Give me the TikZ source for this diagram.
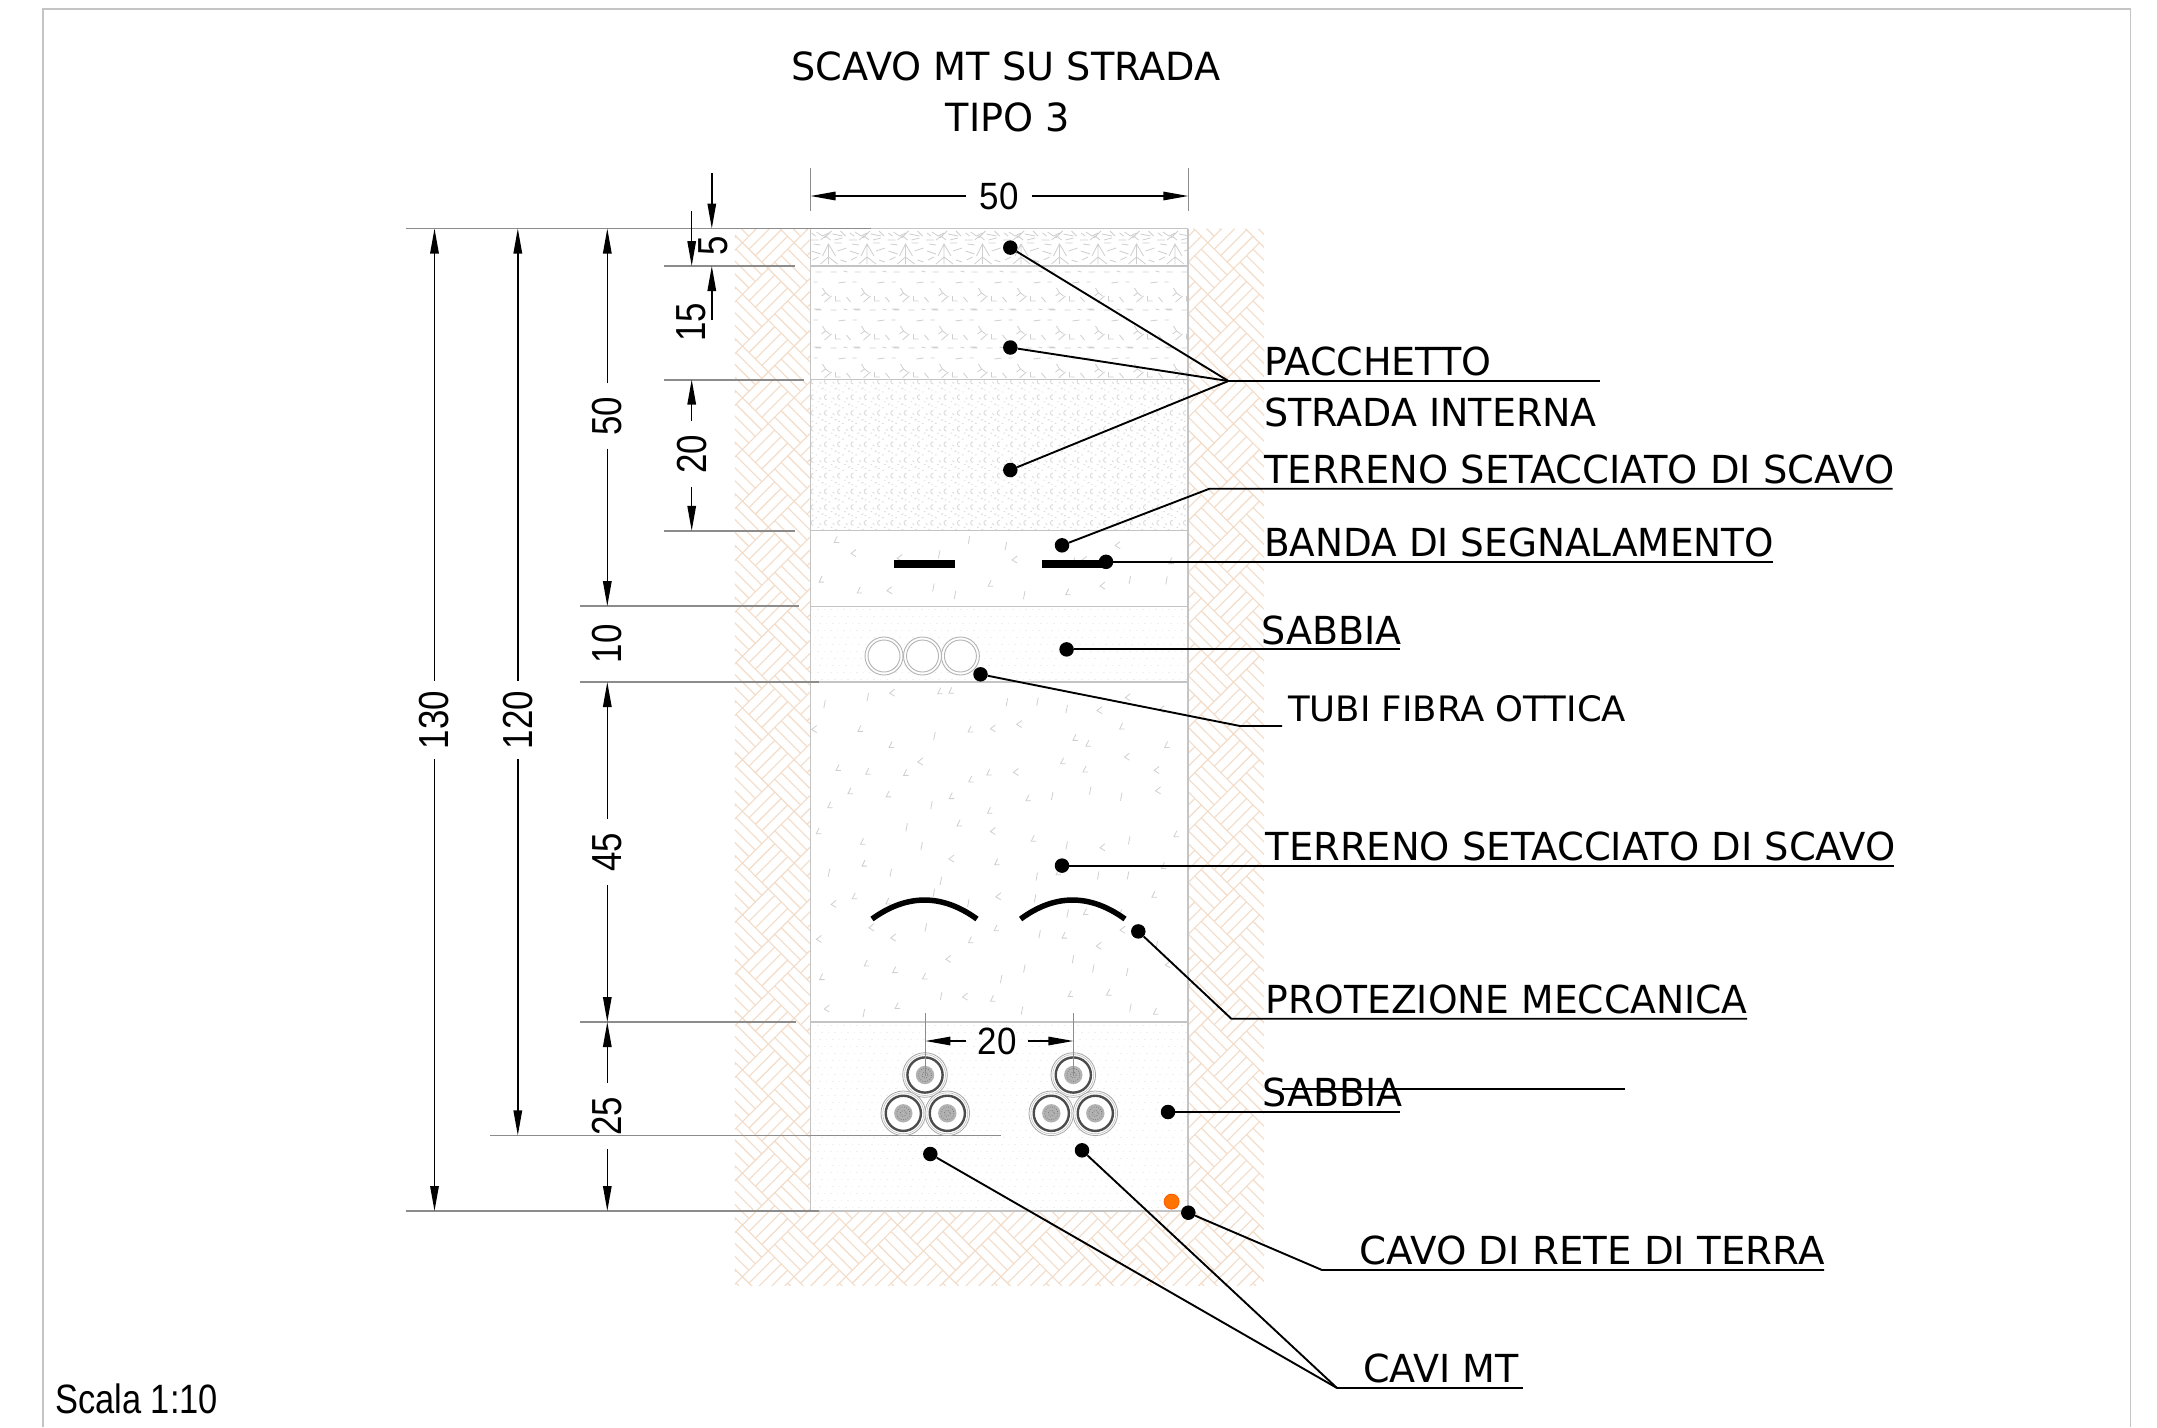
\documentclass[tikz,border=0pt]{standalone}
\usepackage{fontspec}
\usetikzlibrary{arrows.meta}
\setmainfont{DejaVu Sans}
\newfontfamily\lblfont[FakeStretch=0.985]{DejaVu Sans}
\newfontfamily\lblter[FakeStretch=0.996]{DejaVu Sans}
\newfontfamily\lblban[FakeStretch=0.969]{DejaVu Sans}
\newfontfamily\lblcav[FakeStretch=1.003]{DejaVu Sans}
\newfontfamily\lblpro[FakeStretch=0.976]{DejaVu Sans}
\newfontfamily\lbltub[FakeStretch=1.014]{DejaVu Sans}
\newfontfamily\dimfont[FakeStretch=0.92]{Liberation Sans}
\newfontfamily\dimrot[FakeStretch=0.83]{Liberation Sans}
\newfontfamily\scalafont[FakeStretch=0.84]{Liberation Sans}
\definecolor{hatchc}{HTML}{F3DCC8}
\definecolor{markc}{HTML}{CFCFCF}
\definecolor{sandc}{HTML}{EFEFEF}
\definecolor{sidec}{HTML}{C4C4C4}
\definecolor{extc}{HTML}{8C8C8C}
\tikzset{
  x=1pt,y=-1pt,
  hatchline/.style={draw=hatchc,line width=1.1pt},
  mk/.style={draw=markc,line width=.8pt},
  sand/.style={draw=sandc,line width=1pt},
  layerline/.style={draw=sidec,line width=1.2pt},
  sideline/.style={draw=sidec,line width=1.8pt},
  extline/.style={draw=extc,line width=1.8pt},
  extthin/.style={draw=extc,line width=1.1pt},
  dimline/.style={draw=black,line width=1.4pt},
  tipA/.tip={Triangle[length=25pt,width=8.5pt]},
  dimnum/.style={inner xsep=11pt,inner ysep=0pt,font=\dimfont\fontsize{38}{38}\selectfont},
  dimv/.style={rotate=90,inner xsep=10pt,inner ysep=0pt,font=\dimrot\fontsize{42}{42}\selectfont},
  dimtxt/.style={rotate=90,inner sep=0pt,font=\dimrot\fontsize{42}{42}\selectfont},
  lbl/.style={anchor=base west,inner sep=0pt,font=\lblfont\fontsize{38.6}{38.6}\selectfont},
  lbltitle/.style={inner sep=0pt,font=\lblfont\fontsize{38.8}{38.8}\selectfont},
  dot/.style={circle,fill=black,inner sep=0pt,minimum size=14.5pt},
  leader/.style={draw=black,line width=1.9pt},
  band/.style={fill=black},
  arcp/.style={draw=black,line width=5.5pt},
  tube/.style={draw=gray!60,line width=.9pt,fill=white},
}
\begin{document}
\begin{tikzpicture}
\useasboundingbox (0,0) rectangle (2157,1427);
\fill[white] (0,0) rectangle (2157,1427);
% frame
\draw[draw=sidec,line width=1.6pt] (42.8,1427) -- (42.8,9) -- (2130.5,9) -- (2130.5,1427);

% soil hatching (woven blocks of parallel lines)
\begin{scope}
\clip (734.8,228.5) -- (810.5,228.5) -- (810.5,1211) -- (1188.3,1211) -- (1188.3,228.5) -- (1264,228.5) -- (1264,1285.8) -- (734.8,1285.8) -- cycle;
\def\dd{25.85}
\foreach \m in {-4,...,17}{
  \foreach \n in {-39,...,3}{
    \pgfmathtruncatemacro{\prty}{mod(abs(\m+\n),2)}
    \ifnum\prty=0
      \pgfmathsetmacro{\cx}{820+\m*\dd}
      \pgfmathsetmacro{\cy}{1225+\n*\dd}
      \pgfmathtruncatemacro{\keep}{(\cx>838 && \cx<1160 && \cy<1180) ? 0 : 1}
      \ifnum\keep=1
        \pgfmathtruncatemacro{\ori}{mod(abs(\m),2)}
        \ifnum\ori=0
          \draw[hatchline] \foreach \t in {0,.25,.5,.75,1}{
            (\cx-\dd+\t*\dd,\cy+\t*\dd) -- ++(\dd,-\dd)};
        \else
          \draw[hatchline] \foreach \t in {0,.25,.5,.75,1}{
            (\cx-\dd+\t*\dd,\cy-\t*\dd) -- ++(\dd,\dd)};
        \fi
      \fi
    \fi
  }
}
\end{scope}

% trench fill textures
\begin{scope}
\clip (810.5,228.5) rectangle (1188.3,266);
\draw[mk] \foreach \i in {0,...,9}{
  (810.5+\i*38.5+12,256) -- ++(6,-12) -- ++(7,12)
  (810.5+\i*38.5+18,244) -- ++(0,20)
  (810.5+\i*38.5+10,264) -- ++(8,-7) -- ++(9,7)
  (810.5+\i*38.5+1,251) -- ++(9,3)
  (810.5+\i*38.5+27,251) -- ++(9,-3)
  (810.5+\i*38.5+2,260) -- ++(6,-3)
  (810.5+\i*38.5+30,260) -- ++(6,2)
  (810.5+\i*38.5+24,243) -- ++(7,0)
  (810.5+\i*38.5+3,244) -- ++(7,1)
  (810.5+\i*38.5+6,232) -- ++(6,4) -- ++(6,-3)
  (810.5+\i*38.5+10,240) -- ++(5,-4) -- ++(5,4)
  (810.5+\i*38.5+14,238) -- ++(7,-7)
  (810.5+\i*38.5+22,234) -- ++(10,2)
  (810.5+\i*38.5+30,231) -- ++(5,5)
  (810.5+\i*38.5+24,240) -- ++(8,-2)
  (810.5+\i*38.5+0,240) -- ++(8,0)
  (810.5+\i*38.5+1,233) -- ++(4,3)
};
\end{scope}
\begin{scope}
\clip (810.5,266) rectangle (1188.3,379.6);
\draw[mk] \foreach \i in {0,...,9}{\foreach \j in {0,1,2}{
  (810.5+\i*39+5,266+\j*38+6) -- ++(6,0)
  (810.5+\i*39+20,266+\j*38+6) -- ++(6,0)
  (810.5+\i*39+33,266+\j*38+5) -- ++(4,1)
  (810.5+\i*39+3,266+\j*38+16) -- ++(4,0)
  (810.5+\i*39+28,266+\j*38+17) -- ++(7,-1)
  (810.5+\i*39+12,266+\j*38+22) -- ++(3,5) -- ++(4,3)
  (810.5+\i*39+15,266+\j*38+27) -- ++(-4,3)
  (810.5+\i*39+14,266+\j*38+36) -- ++(7,-6)
  (810.5+\i*39+25,266+\j*38+30) -- ++(0,5) -- ++(5,0)
  (810.5+\i*39+36,266+\j*38+31) -- ++(4,5)
  (810.5+\i*39+3,266+\j*38+43) -- ++(7,0)
}};
\end{scope}
\begin{scope}
\clip (810.5,379.6) rectangle (1188.3,530.8);
\draw[draw=black!14,line width=.9pt] \foreach \i in {0,...,28}{\foreach \j in {0,...,9}{
  (810.5+\i*13.3+3,384+\j*15.7) arc[start angle=90,end angle=270,radius=2.5]
  (810.5+\i*13.3+7,386+\j*15.7) -- ++(1.5,0)
  (810.5+\i*13.3+9,382+\j*15.7) -- ++(1.5,1.5)
  (810.5+\i*13.3+11,389+\j*15.7) -- ++(2,-1)
  (810.5+\i*13.3+1,390+\j*15.7) -- ++(1.5,0)
  (810.5+\i*13.3+5,392+\j*15.7) -- ++(1.5,0)
}};
\end{scope}
\foreach \ya/\yb in {606.2/682,1022/1211}{
\begin{scope}
\clip (810.5,\ya) rectangle (1188.3,\yb);
\foreach \j in {0,...,27}{
  \pgfmathsetmacro{\ph}{mod(\j,3)*2.2}
  \draw[sand,dash pattern=on 1.5pt off 5pt,dash phase=\ph pt] (810.5,\ya+3+\j*7) -- (1188.3,\ya+3+\j*7);
}
\end{scope}
}
% scattered marks on a jittered grid
\pgfmathsetseed{4711}
\foreach \ya/\rows in {534/2,686/10}{
  \pgfmathtruncatemacro{\lastrow}{\rows-1}
  \foreach \rr in {0,...,\lastrow}{
    \foreach \cc in {0,...,10}{
      \pgfmathsetmacro{\rx}{816+\cc*33.5+rnd*26}
      \pgfmathsetmacro{\ry}{\ya+\rr*33.5+rnd*24}
      \pgfmathtruncatemacro{\kind}{int(rnd*3)}
      \ifcase\kind
        \draw[mk] (\rx,\ry) -- ++(-5,4) -- ++(5,3);
      \or
        \draw[mk] (\rx,\ry) -- ++(-1.5,8);
      \else
        \draw[mk] (\rx,\ry) -- ++(-3,6) -- ++(5,0);
      \fi
    }
  }
}

% layer lines and trench sides
\draw[layerline] (810.5,266) -- (1188.3,266);
\draw[layerline] (810.5,379.6) -- (1188.3,379.6);
\draw[layerline] (810.5,530.8) -- (1188.3,530.8);
\draw[layerline] (810.5,606.2) -- (1188.3,606.2);
\draw[layerline] (810.5,682) -- (1188.3,682);
\draw[layerline] (810.5,1022) -- (1188.3,1022);
\draw[layerline] (810.5,1211) -- (1188.3,1211);
\draw[layerline] (810.5,228.5) -- (1188.3,228.5);
\draw[sideline] (810.5,228.5) -- (810.5,1211);
\draw[sideline] (1188.3,228.5) -- (1188.3,1211);

% dimension extension lines
\draw[extline] (406.4,228.5) -- (871.4,228.5);
\draw[extline] (664,266) -- (794.5,266);
\draw[extline] (664,379.6) -- (803.6,379.6);
\draw[extline] (664,530.8) -- (794.5,530.8);
\draw[extline] (579.8,606.2) -- (799,606.2);
\draw[extline] (579.8,682) -- (819,682);
\draw[extline] (579.8,1022) -- (795.6,1022);
\draw[extline] (490.2,1135.4) -- (1001,1135.4);
\draw[extline] (406.4,1211) -- (819,1211);
\coordinate (extla) at (810.5,168);
\coordinate (extlb) at (810.5,210.5);
\coordinate (extra) at (1188.3,168);
\coordinate (extrb) at (1188.3,210.5);
\draw[extthin] (extla) -- (extlb);
\draw[extthin] (extra) -- (extrb);

% cables
\foreach \nm/\cx/\cy in {ca/925/1075,cb/903.3/1113.3,cc/947.3/1113.3,cd/1073.3/1075,ce/1051.3/1113.3,cf/1095.3/1113.3}{
  \draw[draw=black!35,line width=.8pt,fill=white] (\cx,\cy) circle[radius=22.3];
  \draw[draw=black!25,line width=.6pt] (\cx,\cy) circle[radius=20.5];
  \draw[draw=black!70,line width=2.4pt] (\cx,\cy) circle[radius=17.6];
  \fill[black!30] (\cx,\cy) circle[radius=9.2];
  \draw[black!55,line width=.7pt,dash pattern=on .8pt off 1.6pt] (\cx,\cy) circle[radius=6.5];
  \draw[black!55,line width=.7pt,dash pattern=on .8pt off 1.6pt] (\cx,\cy) circle[radius=3];
}
\coordinate (d20la) at (925.4,1013);
\coordinate (d20lb) at (925.4,1076);
\coordinate (d20ra) at (1073.4,1013);
\coordinate (d20rb) at (1073.4,1076);
\draw[extthin] (d20la) -- (d20lb);
\draw[extthin] (d20ra) -- (d20rb);

% fibre tubes
\foreach \cx in {884,922.5,960.4}{
  \draw[tube] (\cx,656) circle[radius=19];
  \draw[tube] (\cx,656) circle[radius=16];
}

% warning bands and protection
\fill[band] (894.3,559.5) rectangle (955.2,568);
\fill[band] (1042,559.5) rectangle (1106,568);
\draw[arcp] (872,919) .. controls (907,893.7) and (942,893.7) .. (977,919);
\draw[arcp] (1020.6,919) .. controls (1055,893.7) and (1090,893.7) .. (1125,919);
% earth cable
\node[circle,fill=orange!90!red,draw=orange!70!red,line width=.8pt,inner sep=0pt,minimum size=15pt] (earth) at (1171.6,1201.6) {};

% dimensions
\node[dimnum,inner xsep=13pt] (n50top) at (999,196) {50};
\coordinate (a50l) at (810.5,196);
\coordinate (a50r) at (1188.3,196);
\draw[dimline,-tipA] (n50top) -- (a50l);
\draw[dimline,-tipA] (n50top) -- (a50r);

\coordinate (gtop130) at (434.5,228.5);
\coordinate (gbot130) at (434.5,1211);
\node[dimv] (n130) at (434.5,720) {130};
\draw[dimline,-tipA] (n130) -- (gtop130);
\draw[dimline,-tipA] (n130) -- (gbot130);

\coordinate (gtop120) at (517.8,228.5);
\coordinate (gbot120) at (517.8,1135.4);
\node[dimv] (n120) at (517.8,720) {120};
\draw[dimline,-tipA] (n120) -- (gtop120);
\draw[dimline,-tipA] (n120) -- (gbot120);

\coordinate (gtop50) at (607.3,228.5);
\coordinate (gbot50) at (607.3,606.2);
\node[dimv,inner xsep=13pt] (n50) at (607.3,416) {50};
\draw[dimline,-tipA] (n50) -- (gtop50);
\draw[dimline,-tipA] (n50) -- (gbot50);

\node[dimtxt] (n10) at (607.3,643.7) {10};

\coordinate (gtop45) at (607.3,682);
\coordinate (gbot45) at (607.3,1022);
\node[dimv,inner xsep=13pt] (n45) at (607.3,852) {45};
\draw[dimline,-tipA] (n45) -- (gtop45);
\draw[dimline,-tipA] (n45) -- (gbot45);

\coordinate (gtop25) at (607.3,1022);
\coordinate (gbot25) at (607.3,1211);
\node[dimv,inner xsep=13pt] (n25) at (607.3,1116) {25};
\draw[dimline,-tipA] (n25) -- (gtop25);
\draw[dimline,-tipA] (n25) -- (gbot25);

\coordinate (g20a) at (691.7,379.6);
\coordinate (g20b) at (691.7,530.8);
\node[dimv,inner xsep=13pt] (n20v) at (691.7,454) {20};
\draw[dimline,-tipA] (n20v) -- (g20a);
\draw[dimline,-tipA] (n20v) -- (g20b);

\node[dimtxt] (n5) at (713,245.7) {5};
\coordinate (a5s) at (711.8,173);
\coordinate (a5e) at (711.8,228.5);
\draw[dimline,-tipA] (a5s) -- (a5e);
\coordinate (b5s) at (691.7,210.5);
\coordinate (b5e) at (691.7,266);
\draw[dimline,-tipA] (b5s) -- (b5e);
\node[dimtxt] (n15) at (691.7,322) {15};
\coordinate (a15s) at (711.8,320);
\coordinate (a15e) at (711.8,266);
\draw[dimline,-tipA] (a15s) -- (a15e);

\node[dimnum] (n20h) at (997,1041) {20};
\coordinate (d20a) at (925.4,1041);
\coordinate (d20b) at (1073.4,1041);
\draw[dimline,-tipA] (n20h) -- (d20a);
\draw[dimline,-tipA] (n20h) -- (d20b);

% title and scale
\node[lbltitle] (title1) at (1006,66) {SCAVO MT SU STRADA};
\node[lbltitle] (title2) at (1008,117) {TIPO 3};
\node[anchor=base west,inner sep=0pt,font=\scalafont\fontsize{41}{41}\selectfont] (scala) at (55,1413) {Scala 1:10};

% labels
\node[lbl] (lpac) at (1264,375) {PACCHETTO};
\node[lbl] (lstr) at (1264,426.7) {STRADA INTERNA};
\node[lbl,font=\lblter\fontsize{38.6}{38.6}\selectfont] (lter) at (1264,483.3) {TERRENO SETACCIATO DI SCAVO};
\node[lbl,font=\lblban\fontsize{38.6}{38.6}\selectfont] (lban) at (1264,556) {BANDA DI SEGNALAMENTO};
\node[lbl] (lsa1) at (1261,644) {SABBIA};
\node[lbl,font=\lbltub\fontsize{35}{35}\selectfont] (ltub) at (1288,721) {TUBI FIBRA OTTICA};
\node[lbl,font=\lblter\fontsize{38.6}{38.6}\selectfont] (lte2) at (1265.5,860) {TERRENO SETACCIATO DI SCAVO};
\node[lbl,font=\lblpro\fontsize{38.6}{38.6}\selectfont] (lpro) at (1265.5,1013) {PROTEZIONE MECCANICA};
\node[lbl] (lsa2) at (1262,1106) {SABBIA};
\node[lbl,font=\lblcav\fontsize{38.6}{38.6}\selectfont] (lcav) at (1359,1264.5) {CAVO DI RETE DI TERRA};
\node[lbl] (lmt) at (1363,1382.5) {CAVI MT};

% leaders
\node[dot] (p1) at (1010.3,247.6) {};
\node[dot] (p2) at (1010.3,347.5) {};
\node[dot] (p3) at (1010.3,470) {};
\coordinate (jp) at (1228.4,381);
\coordinate (jpe) at (1600,381);
\draw[leader] (p1) -- (jp);
\draw[leader] (p2) -- (jp);
\draw[leader] (p3) -- (jp);
\draw[leader] (jp) -- (jpe);

\node[dot] (t1) at (1062,545.3) {};
\coordinate (jt1) at (1209.5,488.7);
\coordinate (et1) at (1892.6,488.7);
\draw[leader] (t1) -- (jt1) -- (et1);

\node[dot] (b1) at (1106,561.8) {};
\coordinate (eb1) at (1772.5,561.8);
\draw[leader] (b1) -- (eb1);

\node[dot] (s1) at (1066.6,649.4) {};
\coordinate (es1) at (1400,649.4);
\draw[leader] (s1) -- (es1);

\node[dot] (tu) at (980.5,674.3) {};
\coordinate (jtu) at (1240,726);
\coordinate (etu) at (1282,726);
\draw[leader] (tu) -- (jtu) -- (etu);

\node[dot] (t2) at (1062,865.6) {};
\coordinate (et2) at (1894,865.6);
\draw[leader] (t2) -- (et2);

\node[dot] (pr) at (1138.3,931.4) {};
\coordinate (jpr) at (1231.3,1018.7);
\coordinate (epr) at (1747,1018.7);
\draw[leader] (pr) -- (jpr) -- (epr);

\node[dot] (s2) at (1168,1112) {};
\coordinate (es2) at (1400,1112);
\draw[leader] (s2) -- (es2);
\coordinate (s2a) at (1281.7,1089);
\coordinate (s2b) at (1625,1089);
\draw[leader] (s2a) -- (s2b);

\node[dot] (cv) at (1188.3,1212.7) {};
\coordinate (jcv) at (1322,1270);
\coordinate (ecv) at (1824,1270);
\draw[leader] (cv) -- (jcv) -- (ecv);

\node[dot] (m1) at (930.3,1154) {};
\node[dot] (m2) at (1082,1150.3) {};
\coordinate (jm) at (1337,1388);
\coordinate (em) at (1523,1388);
\draw[leader] (m1) -- (jm);
\draw[leader] (m2) -- (jm);
\draw[leader] (jm) -- (em);
\end{tikzpicture}
\end{document}
